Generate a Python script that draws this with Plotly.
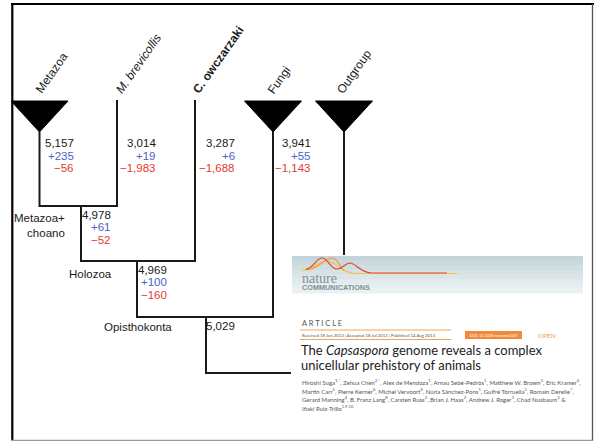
import plotly.graph_objects as go

# ---- data -------------------------------------------------------------
taxa = ["Metazoa", "M. brevicollis", "C. owczarzaki", "Fungi", "Outgroup"]
taxa_fmt = ["Metazoa", "<i>M. brevicollis</i>", "<b>C. owczarzaki</b>", "Fungi", "Outgroup"]
collapsed = [True, False, False, True, True]          # clade drawn as a triangle
tip_genes = [5157, 3014, 3287, 3941, None]
tip_gains = [235, 19, 6, 55, None]
tip_losses = [56, 1983, 1688, 1143, None]

nodes = ["Metazoa+<br>choano", "Holozoa", "Opisthokonta", "root"]
node_genes = [4978, 4969, 5029, None]
node_gains = [61, 100, None, None]
node_losses = [52, 160, None, None]

authors = [
    "Hiroshi Suga<sup>1,*</sup>, Zehua Chen<sup>2,*</sup>, Alex de Mendoza<sup>1</sup>, Arnau Sebé-Pedrós<sup>1</sup>, Matthew W. Brown<sup>3</sup>, Eric Kramer<sup>4</sup>,",
    "Martin Carr<sup>5</sup>, Pierre Kerner<sup>6</sup>, Michel Vervoort<sup>6</sup>, Núria Sánchez-Pons<sup>1</sup>, Guifré Torruella<sup>1</sup>, Romain Derelle<sup>7</sup>,",
    "Gerard Manning<sup>4</sup>, B. Franz Lang<sup>8</sup>, Carsten Russ<sup>2</sup>, Brian J. Haas<sup>2</sup>, Andrew J. Roger<sup>3</sup>, Chad Nusbaum<sup>2</sup> &",
    "Iñaki Ruiz-Trillo<sup>1,9,10</sup>",
]

# ---- tree geometry (canvas units, y grows downward) -------------------
W, H = 594, 442
tip_x = [39.5, 117, 195, 273, 344]
tip_top = 100
tri_half, tri_apex = 28.5, 132
# internal node: (x, y) and its two children; tuples ("n", k) point to node k
node_xy = [(81, 206), (137, 261), (206, 317), (206, 373)]
node_children = [(0, 1), (("n", 0), 2), (("n", 1), 3), (("n", 2), 4)]
node_parent = {0: 1, 1: 2, 2: 3}

BLACK, BLUE, RED = "#1a1a1a", "#4a64c4", "#e23a32"
FONT = "Liberation Sans, Arial, sans-serif"
SANS = "Lato, Open Sans, sans-serif"


def child_pos(c):
    if isinstance(c, tuple):
        return node_xy[c[1]]
    return tip_x[c], (tri_apex if collapsed[c] else tip_top)


fig = go.Figure()

# branches: each node's horizontal bar with vertical drops to its children
xs, ys = [], []
for (nx, ny), (a, b) in zip(node_xy, node_children):
    ax, ay = child_pos(a)
    bx, by = child_pos(b)
    xs += [ax, ax, bx, bx, None]
    ys += [ay, ny, ny, by, None]
# stems linking internal nodes to their parent's bar
for k, parent in node_parent.items():
    xs += [node_xy[k][0], node_xy[k][0], None]
    ys += [node_xy[k][1], node_xy[parent][1], None]
fig.add_trace(go.Scatter(x=xs, y=ys, mode="lines", line=dict(color=BLACK, width=2),
                         hoverinfo="skip", showlegend=False))

# collapsed clades
for i, c in enumerate(collapsed):
    x0 = tip_x[i]
    if c:
        fig.add_trace(go.Scatter(x=[x0 - tri_half, x0 + tri_half, x0, x0 - tri_half],
                                 y=[tip_top + 1, tip_top + 1, tri_apex, tip_top + 1],
                                 mode="lines", fill="toself", fillcolor="black",
                                 line=dict(color="black", width=1),
                                 hoverinfo="skip", showlegend=False))

ann = []


def txt(x, y, s, size=11.5, color=BLACK, xa="right", ya="middle", **kw):
    ann.append(dict(x=x, y=y, text=s, showarrow=False, xanchor=xa, yanchor=ya,
                    font=dict(family=kw.pop("family", FONT), size=size, color=color), **kw))


# tip labels (rotated)
label_start = [(30, 99), (110, 99), (187, 99), (262, 99), (331, 99)]
for (lx, ly), s in zip(label_start, taxa_fmt):
    txt(lx, ly, s, size=12, xa="left", ya="bottom", textangle=-55)

# tip counts
count_right = [76, 158, 237, 313]
for i, r in enumerate(count_right):
    txt(r, 143, f"{tip_genes[i]:,}")
    txt(r, 155.5, f"+{tip_gains[i]:,}", color=BLUE)
    txt(r, 168, f"\u2212{tip_losses[i]:,}", color=RED)

# internal node labels and counts
node_name_pos = [(67, 225), (114, 274), (174, 327)]
node_count_right = [113, 169, 237]
for k in range(3):
    nx, ny = node_xy[k]
    txt(node_name_pos[k][0], node_name_pos[k][1], nodes[k], align="right")
    r = node_count_right[k]
    txt(r, ny + 9, f"{node_genes[k]:,}")
    if node_gains[k] is not None:
        txt(r, ny + 21, f"+{node_gains[k]:,}", color=BLUE)
        txt(r, ny + 33.5, f"\u2212{node_losses[k]:,}", color=RED)

# ---- article header panel ---------------------------------------------
shapes = []
shapes.append(dict(type="rect", x0=291, x1=586, y0=255, y1=432, fillcolor="white",
                   line=dict(width=0), layer="above"))
band_cols = ["#c4d5da", "#cad9de", "#d0dde1", "#d6e2e5", "#dce6e9", "#e1eaec", "#e6eeef", "#ebf1f2"]
bh = (293 - 256) / len(band_cols)
for j, c in enumerate(band_cols):
    shapes.append(dict(type="rect", x0=292, x1=583, y0=256 + j * bh, y1=256 + (j + 1) * bh + 0.5,
                       fillcolor=c, line=dict(width=0), layer="above"))
waves = [
    ("#f6c445", "M302,270 C314,270 318,261 327,261 C336,261 340,273 356,273.5 L457,273.5"),
    ("#f29a2e", "M305,270 C318,270 324,258 332,258 C339,258 339,268 344,270"),
    ("#e6432e", "M306,269 C314,268 316,258 322,258 C328,258 330,269 337,269 "
                "C343,269 345,263 350,263 C356,263 360,272.5 372,273 L447,273"),
]
for col, p in waves:
    shapes.append(dict(type="path", path=p, line=dict(color=col, width=1.2), layer="above"))
# rules under the heading
shapes.append(dict(type="line", x0=300, x1=451, y0=330, y1=330, line=dict(color="#f3a35a", width=1), layer="above"))
shapes.append(dict(type="line", x0=300, x1=451, y0=339.5, y1=339.5, line=dict(color="#f3a35a", width=1), layer="above"))
shapes.append(dict(type="rect", x0=465, x1=522, y0=331, y1=339, fillcolor="#f08a3a",
                   line=dict(width=0), layer="above"))

# page frame
shapes += [
    dict(type="line", x0=11, x1=594, y0=4, y1=4, line=dict(color="black", width=2.2)),
    dict(type="line", x0=12.3, x1=12.3, y0=3, y1=441, line=dict(color="black", width=2.2)),
    dict(type="line", x0=592.5, x1=592.5, y0=4, y1=441, line=dict(color="#555555", width=1.3)),
    dict(type="line", x0=11, x1=593, y0=440.3, y1=440.3, line=dict(color="#9a9a9a", width=1.3)),
]

txt(300, 278, "nature", size=14, color="#7f9097", xa="left", family="Liberation Serif, serif")
txt(300, 287, "<b>COMMUNICATIONS</b>", size=7.3, color="#7f9097", xa="left")
txt(300, 323, "A R T I C L E", size=7.5, color="#555555", xa="left", family=SANS)
txt(300, 335, "Received 18 Jun 2013 | Accepted 18 Jul 2013 | Published 14 Aug 2013",
    size=4.3, color="#555555", xa="left", family=SANS)
txt(493.5, 335, "DOI: 10.1038/ncomms3325", size=3.8, color="white", xa="center", family=SANS)
txt(536, 335, "OPEN", size=6.5, color="#f0a050", xa="left", family=SANS)
txt(299, 349.5, "The <i>Capsaspora</i> genome reveals a complex", size=13, color="#222222",
    xa="left", family=SANS)
txt(299, 364.5, "unicellular prehistory of animals", size=13, color="#222222", xa="left", family=SANS)
for i, line in enumerate(authors):
    txt(300, 382 + i * 8.5, line, size=6.0, color="#555555", xa="left", family=SANS)

fig.update_layout(
    width=W, height=H, margin=dict(l=0, r=0, t=0, b=0),
    paper_bgcolor="white", plot_bgcolor="white",
    xaxis=dict(range=[0, W], visible=False, fixedrange=True),
    yaxis=dict(range=[H, 0], visible=False, fixedrange=True),
    shapes=shapes, annotations=ann, showlegend=False,
)
fig.write_html("out.html")
